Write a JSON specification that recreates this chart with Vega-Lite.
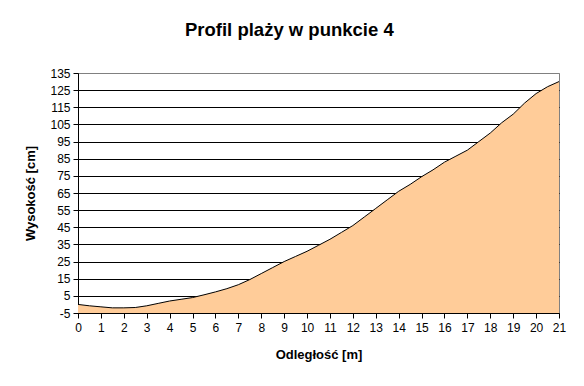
{
  "$schema": "https://vega.github.io/schema/vega-lite/v6.json",
  "width": 481,
  "height": 240,
  "autosize": {"type": "none"},
  "padding": {"left": 78, "top": 73, "right": 25, "bottom": 73},
  "background": "white",
  "title": {
    "text": "Profil plaży w punkcie 4",
    "font": "Liberation Sans",
    "fontSize": 18.5,
    "fontWeight": "bold",
    "color": "black",
    "anchor": "middle",
    "frame": "bounds",
    "offset": 28,
    "dx": -6
  },
  "data": {
    "values": [
      {"odleglosc": 0, "wysokosc": 0},
      {"odleglosc": 0.5, "wysokosc": -0.8},
      {"odleglosc": 1, "wysokosc": -1.4},
      {"odleglosc": 1.5, "wysokosc": -2},
      {"odleglosc": 2, "wysokosc": -2},
      {"odleglosc": 2.5, "wysokosc": -1.8},
      {"odleglosc": 3, "wysokosc": -0.8},
      {"odleglosc": 3.5, "wysokosc": 0.6},
      {"odleglosc": 4, "wysokosc": 2},
      {"odleglosc": 4.5, "wysokosc": 3},
      {"odleglosc": 5, "wysokosc": 4},
      {"odleglosc": 5.5, "wysokosc": 5.6},
      {"odleglosc": 6, "wysokosc": 7.3},
      {"odleglosc": 6.5, "wysokosc": 9.2},
      {"odleglosc": 7, "wysokosc": 11.5},
      {"odleglosc": 7.5, "wysokosc": 14.5},
      {"odleglosc": 8, "wysokosc": 18},
      {"odleglosc": 8.5, "wysokosc": 21.5},
      {"odleglosc": 9, "wysokosc": 25},
      {"odleglosc": 9.5, "wysokosc": 28},
      {"odleglosc": 10, "wysokosc": 31},
      {"odleglosc": 10.5, "wysokosc": 34.5},
      {"odleglosc": 11, "wysokosc": 38},
      {"odleglosc": 11.5, "wysokosc": 42},
      {"odleglosc": 12, "wysokosc": 46},
      {"odleglosc": 12.5, "wysokosc": 51},
      {"odleglosc": 13, "wysokosc": 56},
      {"odleglosc": 13.5, "wysokosc": 61},
      {"odleglosc": 14, "wysokosc": 66},
      {"odleglosc": 14.5, "wysokosc": 70},
      {"odleglosc": 15, "wysokosc": 74.5},
      {"odleglosc": 15.5, "wysokosc": 78.5},
      {"odleglosc": 16, "wysokosc": 83},
      {"odleglosc": 16.5, "wysokosc": 86.5},
      {"odleglosc": 17, "wysokosc": 90},
      {"odleglosc": 17.5, "wysokosc": 95},
      {"odleglosc": 18, "wysokosc": 100},
      {"odleglosc": 18.5, "wysokosc": 106},
      {"odleglosc": 19, "wysokosc": 111},
      {"odleglosc": 19.5, "wysokosc": 117.5},
      {"odleglosc": 20, "wysokosc": 123},
      {"odleglosc": 20.5, "wysokosc": 127},
      {"odleglosc": 21, "wysokosc": 130}
    ]
  },
  "mark": {
    "type": "area",
    "color": "#FFCC99",
    "opacity": 1,
    "line": {"color": "black", "strokeWidth": 1},
    "clip": true
  },
  "encoding": {
    "x": {
      "field": "odleglosc",
      "type": "quantitative",
      "scale": {"domain": [0, 21], "nice": false, "zero": false},
      "axis": {
        "title": "Odległość [m]",
        "values": [0,1,2,3,4,5,6,7,8,9,10,11,12,13,14,15,16,17,18,19,20,21],
        "labelExpr": "'' + datum.value",
        "grid": false,
        "labelFont": "Liberation Sans",
        "labelFontSize": 12,
        "labelColor": "black",
        "labelPadding": 4,
        "labelFlush": false,
        "labelOverlap": false,
        "tickSize": 5,
        "tickColor": "black",
        "domainColor": "black",
        "titleFont": "Liberation Sans",
        "titleFontSize": 13,
        "titleFontWeight": "bold",
        "titleColor": "black",
        "titlePadding": 15
      }
    },
    "y": {
      "field": "wysokosc",
      "type": "quantitative",
      "scale": {"domain": [-5, 135], "nice": false, "zero": false},
      "axis": {
        "title": "Wysokość [cm]",
        "values": [-5,5,15,25,35,45,55,65,75,85,95,105,115,125,135],
        "labelExpr": "'' + datum.value",
        "grid": true,
        "gridColor": {"condition": {"test": "datum.value == 135", "value": "#808080"}, "value": "black"},
        "gridOpacity": 1,
        "labelFont": "Liberation Sans",
        "labelFontSize": 12,
        "labelColor": "black",
        "labelPadding": 3,
        "labelFlush": false,
        "labelOverlap": false,
        "tickSize": 5,
        "tickColor": "black",
        "domainColor": "black",
        "titleFont": "Liberation Sans",
        "titleFontSize": 13,
        "titleFontWeight": "bold",
        "titleColor": "black",
        "titlePadding": 12
      }
    },
    "y2": {"datum": -5}
  },
  "config": {"view": {"stroke": "#808080", "strokeWidth": 1}}
}
